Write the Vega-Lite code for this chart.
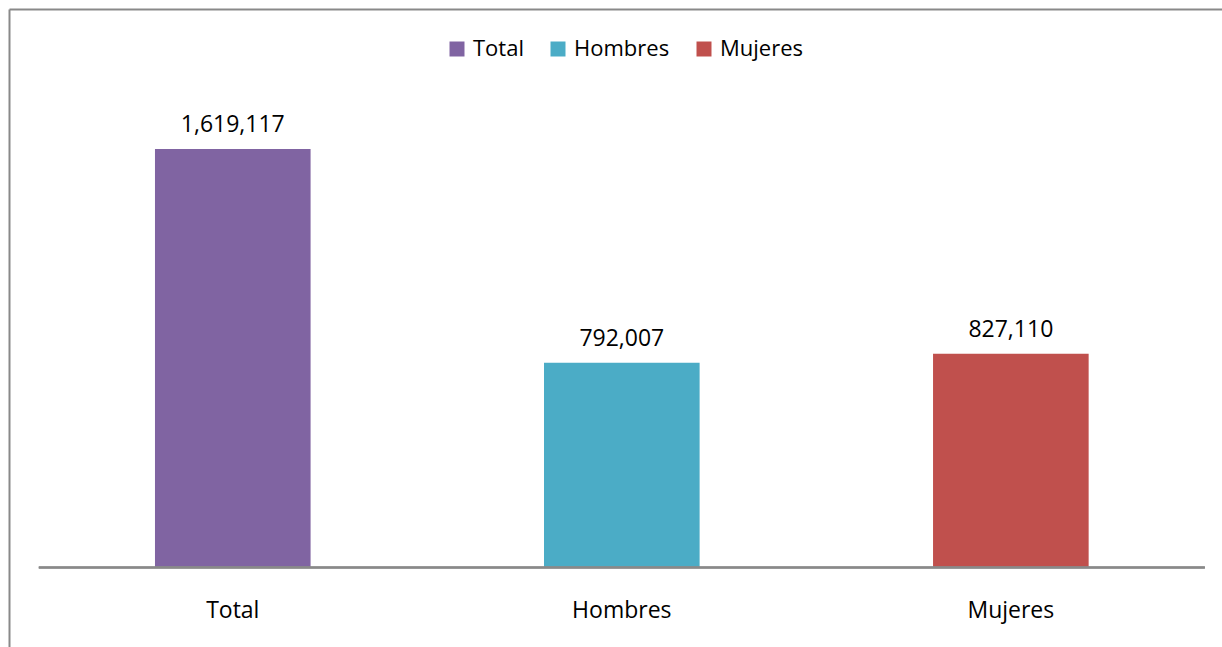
{
  "$schema": "https://vega.github.io/schema/vega-lite/v6.json",
  "width": 1213,
  "height": 638,
  "autosize": {"type": "none"},
  "padding": {"left": 9, "top": 9, "right": 0, "bottom": 0},
  "background": "white",
  "config": {"view": {"stroke": null}, "font": "Open Sans"},
  "data": {
    "values": [
      {"categoria": "Total", "valor": 1619117},
      {"categoria": "Hombres", "valor": 792007},
      {"categoria": "Mujeres", "valor": 827110}
    ]
  },
  "layer": [
    {
      "mark": {"type": "bar"},
      "encoding": {
        "x": {
          "field": "categoria",
          "type": "nominal",
          "sort": ["Total", "Hombres", "Mujeres"],
          "scale": {"paddingInner": 0.6, "paddingOuter": 0.359, "align": 0.5226},
          "axis": {
            "orient": "bottom",
            "offset": -79.5,
            "domain": false,
            "ticks": false,
            "tickSize": 0,
            "labelPadding": 50,
            "labelBaseline": "alphabetic",
            "labelFontSize": 23,
            "labelColor": "#000000",
            "labelAngle": 0,
            "title": null
          }
        },
        "y": {
          "field": "valor",
          "type": "quantitative",
          "scale": {"domain": [-307580, 2160790], "nice": false, "zero": false},
          "axis": {
            "orient": "left",
            "domain": true,
            "domainColor": "#898989",
            "domainWidth": 2,
            "ticks": false,
            "labels": false,
            "grid": true,
            "gridColor": "#898989",
            "gridWidth": 2,
            "values": [2160790],
            "title": null
          }
        },
        "y2": {"datum": 0},
        "color": {
          "field": "categoria",
          "type": "nominal",
          "scale": {
            "domain": ["Total", "Hombres", "Mujeres"],
            "range": ["#8064A2", "#4BACC6", "#C0504D"]
          },
          "legend": {
            "orient": "none",
            "legendX": 437,
            "legendY": 29,
            "direction": "horizontal",
            "title": null,
            "padding": 0,
            "symbolType": "square",
            "symbolSize": 225,
            "symbolStrokeWidth": 0,
            "labelFontSize": 22,
            "labelColor": "#000000",
            "labelOffset": 5,
            "columnPadding": 23
          }
        }
      }
    },
    {
      "mark": {"type": "text", "baseline": "alphabetic", "dy": -17, "fontSize": 23, "color": "#000000"},
      "encoding": {
        "x": {"field": "categoria", "type": "nominal", "sort": ["Total", "Hombres", "Mujeres"]},
        "y": {"field": "valor", "type": "quantitative"},
        "text": {"field": "valor", "type": "quantitative", "format": ","}
      }
    },
    {
      "mark": {"type": "tick", "size": 1166, "thickness": 2, "color": "#898989", "opacity": 1},
      "encoding": {
        "x": {"datum": "Hombres", "type": "nominal"},
        "y": {"datum": 0, "type": "quantitative"}
      }
    }
  ]
}
